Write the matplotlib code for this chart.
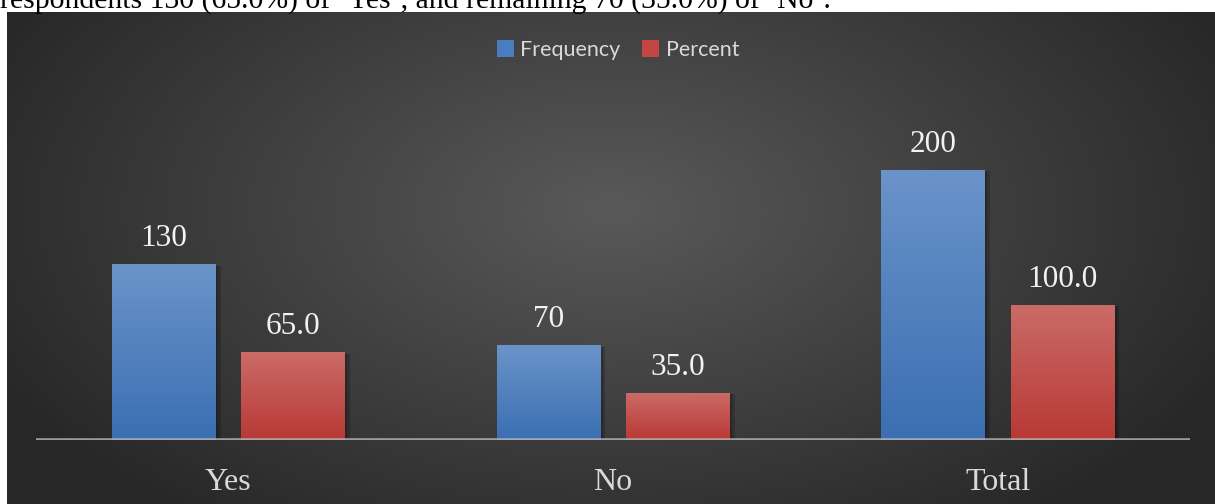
import numpy as np
import matplotlib
matplotlib.use("Agg")
import matplotlib.pyplot as plt
import matplotlib.patheffects as pe
from matplotlib.patches import Patch
from matplotlib.colors import LinearSegmentedColormap

# survey answers
categories = ["Yes", "No", "Total"]
frequency = [130, 70, 200]
percent = [65.0, 35.0, 100.0]
freq_labels = ["130", "70", "200"]
pct_labels = ["65.0", "35.0", "100.0"]

W, H = 1215, 504
fig = plt.figure(figsize=(W / 100, H / 100), dpi=100)
fig.patch.set_facecolor("white")

# dark panel with a soft radial glow in the middle
bg = fig.add_axes([7 / W, 0, (W - 7) / W, (H - 12) / H], zorder=0)
bg.set_axis_off()
gx, gy = np.meshgrid(np.linspace(0, 1, 400), np.linspace(0, 1, 200))
r = np.sqrt(((gx - 0.5) / 0.58) ** 2 + ((gy - 0.4) / 0.8) ** 2)
shade = np.clip(1 - r, 0, 1) ** 1.0
bg_cmap = LinearSegmentedColormap.from_list("bg", ["#272727", "#595959"])
bg.imshow(shade, cmap=bg_cmap, vmin=0, vmax=1, aspect="auto", extent=[0, 1, 0, 1])

# caption line cut off above the chart
fig.text(0.0, 1 - 9 / H, "respondents 130 (65.0%) of \u2018Yes\u2019, and remaining 70 (35.0%) of \u2018No\u2019.",
         family="Liberation Serif", fontsize=21.4, color="black", ha="left", va="baseline")

ax = fig.add_axes([36 / W, 64 / H, 1154 / W, 338 / H], zorder=1)
ax.patch.set_alpha(0)
x = np.arange(len(categories))
w = 0.268
off = 0.168

def gradient_bars(bars, top, bottom):
    cmap = LinearSegmentedColormap.from_list("g", [bottom, top])
    grad = np.linspace(0, 1, 100).reshape(-1, 1)
    for b in bars:
        x0, y0 = b.get_x(), b.get_y()
        im = ax.imshow(grad, cmap=cmap, aspect="auto", origin="lower",
                       extent=[x0, x0 + b.get_width(), y0, y0 + b.get_height()], zorder=2)
        im.set_clip_path(b)

shadow = [pe.SimplePatchShadow(offset=(4, -1), alpha=0.18, shadow_rgbFace="black"),
          pe.SimplePatchShadow(offset=(2, -1), alpha=0.18, shadow_rgbFace="black"), pe.Normal()]
b1 = ax.bar(x - off, frequency, w, color="#4f7fbf", zorder=2, path_effects=shadow)
b2 = ax.bar(x + off, percent, w, color="#c24a46", zorder=2, path_effects=shadow)
gradient_bars(b1, "#6a93c9", "#3b6fb2")
gradient_bars(b2, "#cb6b67", "#b83935")

for b, t in zip(list(b1) + list(b2), freq_labels + pct_labels):
    ax.annotate(t, (b.get_x() + b.get_width() / 2, b.get_height()), xytext=(0, 13),
                textcoords="offset points", ha="center", va="baseline",
                family="Liberation Serif", fontsize=22.5, color="#f2f2f2")

ax.axhline(0, color="#b8b8b8", lw=2.6, alpha=0.8, zorder=3)
ax.set_xlim(-0.5, 2.5)
ax.set_ylim(0, 250)
ax.set_xticks(x)
ax.set_xticklabels(categories, family="Liberation Serif", fontsize=23, color="#d9d9d9")
ax.tick_params(axis="x", length=0, pad=20)
ax.set_yticks([])
for s in ax.spines.values():
    s.set_visible(False)

handles = [Patch(facecolor="#4a7cc0", label="Frequency"), Patch(facecolor="#c44642", label="Percent")]
leg = fig.legend(handles=handles, loc="center", bbox_to_anchor=(618 / W, 1 - 50 / H), ncol=2,
                 frameon=False, prop={"family": "Lato", "size": 15.5}, labelcolor="#d9d9d9",
                 handlelength=0.8, handleheight=0.8, handletextpad=0.3, columnspacing=1.0)

fig.savefig("out.png", dpi=100, facecolor="white")
